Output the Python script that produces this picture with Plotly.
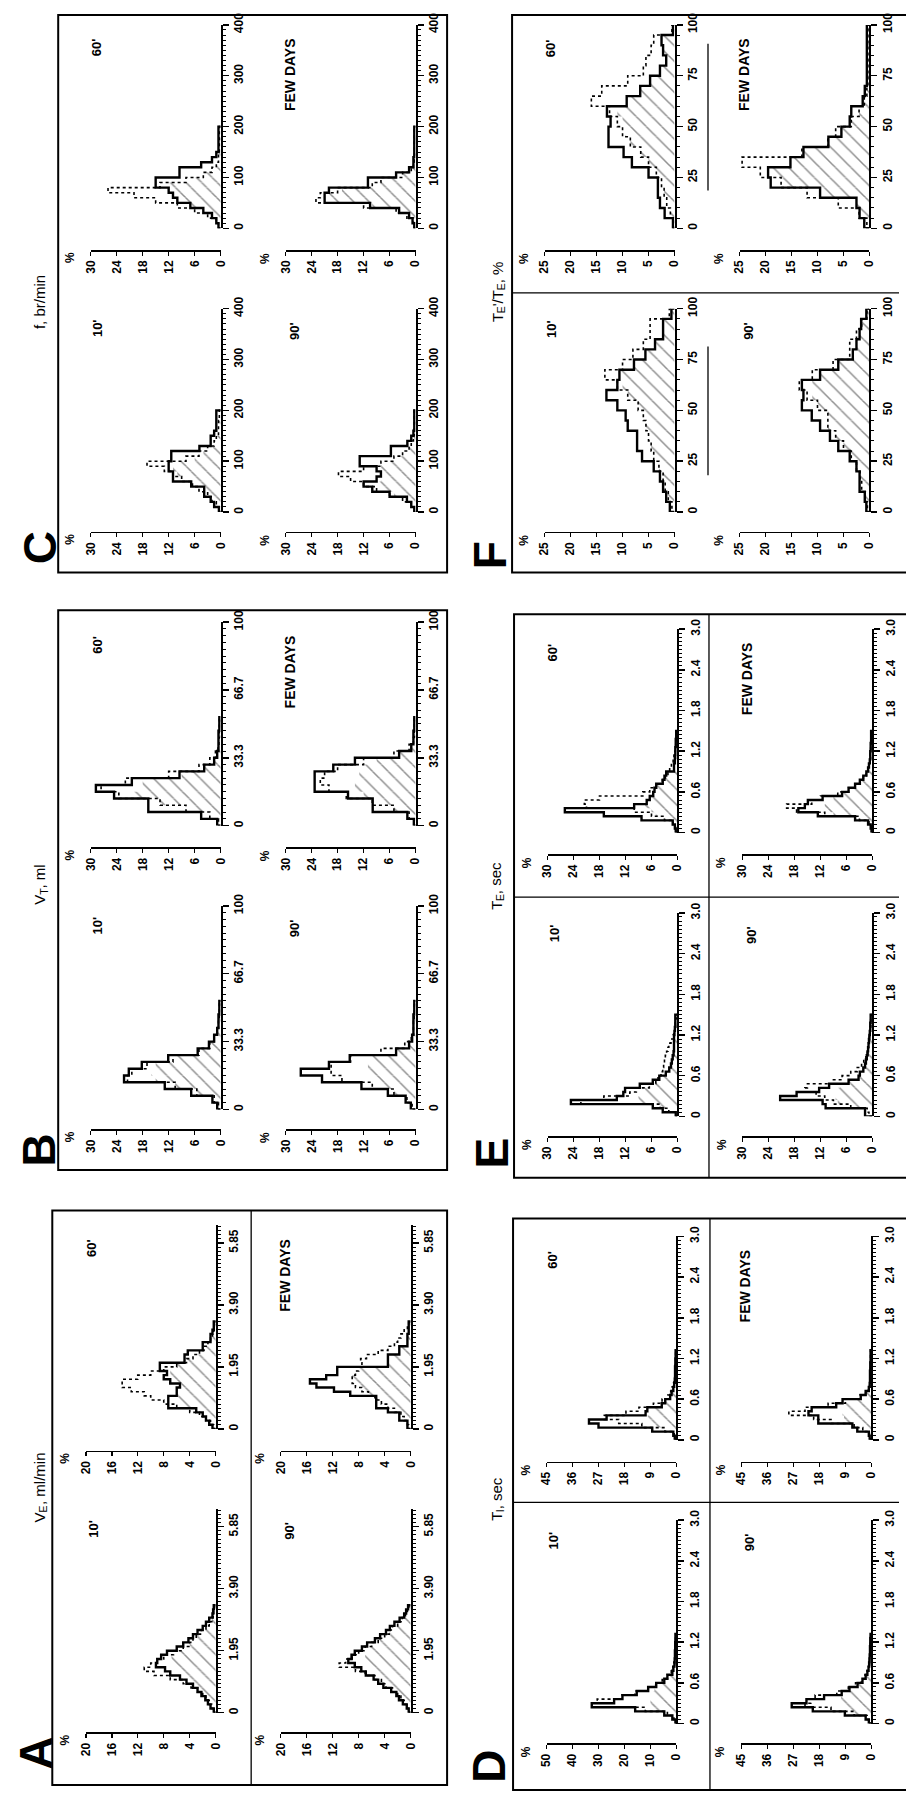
import plotly.graph_objects as go

W, H = 906, 1798

# ----------------------------------------------------------------- data
# bin widths of each variable
C_BIN = 10            # f, br/min
B_BIN = 100 / 30      # V_T, ml
A_BIN = 0.13          # V_E
F_BIN = 5             # T_E'/T_E, %
E_BIN = 0.06          # T_E, sec
D_BIN = 0.06          # T_I, sec

# panel C : f, br/min   (S = solid, D = dotted, H = hatched)
C60_S = [0.5, 1, 2, 4, 7, 10, 11, 12, 15, 15, 9.5, 9.5, 4.5, 2, 1, 0.5, 0.5, 0.5, 0.5, 0.5]
C60_D = [0.5, 1, 3, 6, 10, 15, 20, 26, 14, 8, 4, 2, 1, 0.5, 0.5, 0.3, 0.3, 0.3, 0.3, 0.3]
C60_H = [0.3, 1, 2, 4, 7, 10, 11, 12, 12, 8, 4, 2, 1, 0.5, 0.3, 0.3, 0.3, 0.3, 0.3, 0.3]
CFD_S = [0.3, 0.7, 1.5, 3.8, 10.5, 21, 21, 20, 11, 11, 4.5, 1.5, 0.5, 0.5, 0.3, 0.3, 0.3, 0.3, 0.3, 0.3]
CFD_D = [0.3, 0.5, 2, 4.5, 12, 23, 22, 18, 10, 8, 3, 1, 0.5, 0.3, 0.3, 0.3, 0.3, 0.3, 0.3, 0.3]
CFD_H = [0.3, 0.5, 1.5, 3.8, 10, 20, 20, 17, 10, 8, 3, 1, 0.3, 0.3, 0.3, 0.3, 0.3, 0.3, 0.3, 0.3]
C10_S = [0.4, 1.5, 2.3, 3.8, 3.8, 6.8, 11, 11, 12, 12, 11.4, 11.4, 4.9, 2.3, 2.3, 1.5, 1, 1, 1, 1]
C10_D = [0.3, 1, 2, 3, 5, 6.5, 9, 11, 13, 17, 8, 5, 3, 1.5, 1, 0.5, 0.5, 0.5, 0.3, 0.3]
C10_H = [0.3, 1, 2, 3, 3.8, 6, 8, 10, 11, 11, 6, 4, 2.5, 1.5, 1, 0.5, 0.5, 0.5, 0.3, 0.3]
C90_S = [0.3, 1, 2, 6, 10, 12, 9, 8, 9, 12.9, 12.9, 5.7, 5.7, 1.9, 1, 0.5, 0.3, 0.3, 0.3, 0.3]
C90_D = [0.3, 1, 3, 6, 9, 12, 15, 17.8, 12, 8, 5, 3, 1.5, 1, 0.5, 0.3, 0.3, 0.3, 0.3, 0.3]
C90_H = [0.3, 1, 2, 5, 8, 10, 8, 8, 8, 8, 5, 3, 1.5, 1, 0.5, 0.3, 0.3, 0.3, 0.3, 0.3]

# panel B : V_T, ml
B60_S = [0.8, 4.5, 16.7, 16.7, 24.6, 28.8, 20.5, 9.5, 3.8, 1.5, 0.8, 0.5, 0.5, 0.5, 0.3, 0.3]
B60_D = [0.5, 2.5, 8, 14, 23.5, 27.6, 22, 12, 5, 2.5, 1.2, 0.6, 0.4, 0.3, 0.3, 0.3]
B60_H = [0.5, 2.5, 8, 14, 20, 18, 18, 9, 3.8, 1.5, 0.8, 0.5, 0.4, 0.3, 0.3, 0.3]
BFD_S = [0.4, 1.9, 9.9, 9.9, 15.6, 23.3, 23.3, 23.3, 19, 14, 3.8, 1, 0.5, 0.5, 0.3, 0.3]
BFD_D = [0.3, 1.5, 5, 10, 16, 20, 22, 21, 18, 12, 5, 1.5, 0.5, 0.3, 0.3, 0.3]
BFD_H = [0.3, 1.5, 5, 9, 12, 14, 14, 13, 12, 9, 3.8, 1, 0.5, 0.3, 0.3, 0.3]
B10_S = [0.8, 1.9, 6.8, 12.9, 22.3, 21.2, 18.2, 12.1, 5.3, 2.7, 1.5, 0.8, 0.5, 0.5, 0.3, 0.3]
B10_D = [0.5, 1.5, 5.5, 10.5, 21.5, 20.5, 17, 11, 5, 2.5, 1.5, 0.8, 0.5, 0.3, 0.3, 0.3]
B10_H = [0.5, 1.5, 5.5, 10.5, 15, 16, 15, 11, 5, 2.5, 1.5, 0.8, 0.5, 0.3, 0.3, 0.3]
B90_S = [1.1, 2.3, 6.4, 12.5, 21.6, 26.5, 20, 15.2, 4.5, 1.5, 0.8, 0.5, 0.5, 0.5, 0.3, 0.3]
B90_D = [0.8, 2, 5, 10, 17, 19.5, 19.5, 15, 8, 2.5, 1, 0.5, 0.5, 0.3, 0.3, 0.3]
B90_H = [0.8, 2, 5, 9, 10, 11, 11, 10, 4.5, 1.5, 0.8, 0.5, 0.3, 0.3, 0.3, 0.3]

# panel A : V_E
A60_S = [0.5, 1, 1.5, 2, 3, 7.3, 7.3, 7.3, 6, 6, 5.5, 7, 8, 7.5, 8.6, 8.6, 4.8, 4.8, 4.3, 2, 2, 0.8, 0.8, 0.5, 0.3, 0.3]
A60_D = [0.3, 0.8, 1.5, 2.5, 4, 6, 8, 10, 11, 13, 14.4, 14.4, 12, 10, 8, 6, 4.5, 3.5, 2.5, 1.8, 1.2, 0.8, 0.5, 0.3, 0.3, 0.2]
A60_H = [0.3, 0.8, 1.5, 2, 3, 5, 6, 6.5, 6, 6, 5.5, 6.5, 7, 7, 7, 6, 4.5, 3.5, 2.5, 1.8, 1.2, 0.8, 0.5, 0.3, 0.3, 0.2]
AFD_S = [0.5, 0.5, 1.75, 1.75, 3.5, 5.3, 5.3, 5.3, 9.3, 11.8, 14.5, 15.5, 13, 11.3, 11.3, 3.5, 3.5, 3.5, 1.75, 1.75, 0.5, 0.5, 0.5, 0.3, 0.3, 0.3]
AFD_D = [0.3, 0.5, 1, 1.5, 2.5, 3.5, 4.5, 5.5, 6.5, 7.5, 8.5, 9, 9, 8.5, 8, 7.5, 7.7, 6.8, 5, 3.5, 2.5, 2, 1.5, 1, 0.5, 0.3]
AFD_H = [0.3, 0.5, 1, 1.5, 2.5, 3.5, 4.5, 5.3, 6.5, 7.5, 8.5, 9, 9, 8.5, 8, 3.5, 3.5, 3.5, 1.75, 1.75, 0.5, 0.5, 0.5, 0.3, 0.3, 0.3]
A10_S = [0.3, 0.8, 1.2, 1.6, 2.2, 2.8, 3.5, 4.5, 5.5, 7, 7.8, 9.2, 9, 8.4, 7.5, 6, 5, 4.2, 3.5, 2.8, 2, 1.5, 1, 0.5, 0.4, 0.3]
A10_D = [0.2, 0.6, 1, 1.5, 2, 2.8, 3.8, 5, 7, 9.5, 11, 10, 9, 8, 6.5, 5, 4, 3.5, 3, 2.2, 1.5, 1, 0.6, 0.4, 0.3, 0.2]
A10_H = [0.2, 0.6, 1, 1.5, 2, 2.8, 3.5, 4.2, 5.2, 6, 6.8, 7, 7, 6.8, 6, 5, 4, 3.5, 3, 2.2, 1.5, 1, 0.6, 0.4, 0.3, 0.2]
A90_S = [0.3, 0.6, 1.2, 1.8, 2.2, 3, 4.2, 5, 5.7, 6.9, 7.6, 8.6, 9.6, 9.1, 8.6, 7.5, 6.7, 5.5, 4.7, 3.8, 3.2, 2.5, 1.7, 1, 0.7, 0.4]
A90_D = [0.2, 0.5, 1, 1.5, 2, 2.8, 3.8, 4.5, 5.5, 7, 8.5, 11, 10, 9, 8, 7, 6, 5, 4, 3.3, 2.8, 2, 1.3, 0.8, 0.5, 0.3]
A90_H = [0.2, 0.5, 1, 1.5, 2, 2.8, 3.5, 4.2, 5, 5.8, 6.3, 6.8, 7, 7, 6.8, 6.3, 5.6, 4.8, 4, 3.3, 2.8, 2, 1.3, 0.8, 0.5, 0.3]

# panel F : T_E'/T_E, %
F60_S = [0.3, 1.9, 2.8, 3.2, 3.2, 5, 8.2, 9.8, 12.7, 12.7, 12.3, 13, 9.2, 6.6, 4.7, 2.8, 1.6, 2.2, 2.5, 0.3]
F60_D = [0.2, 0.8, 1.5, 2, 2.5, 3.5, 5, 6.5, 8.5, 10, 11, 12.5, 16, 14, 9, 6, 5.5, 4.5, 4, 0.5]
F60_H = [0.2, 0.8, 1.5, 2, 2.5, 3.5, 5, 6.5, 8.5, 9.5, 10, 11, 9.2, 6.6, 4.7, 2.8, 1.6, 2.2, 2.5, 0.3]
FFD_S = [1, 1.9, 2.5, 9.5, 19, 19.5, 15.2, 12.7, 7.9, 5.4, 3.8, 3.5, 1.3, 0.9, 0.5, 0.5, 0.5, 0.5, 0.5, 0.5]
FFD_D = [0.5, 2, 6, 12, 17, 21, 24.5, 13, 8, 6.5, 3.5, 2, 1, 0.5, 0.3, 0.3, 0.3, 0.3, 0.3, 0.3]
FFD_H = [0.5, 1.9, 2.5, 9.5, 17, 19, 15.2, 12.7, 7.9, 5.4, 3.5, 2, 1, 0.5, 0.3, 0.3, 0.3, 0.3, 0.3, 0.3]
F10_S = [0.9, 1.6, 2.2, 2.8, 4, 6.25, 7.2, 7.2, 9, 9.4, 11, 13.1, 11, 10.6, 7.8, 5.6, 3.75, 2.2, 2.2, 0.6]
F10_D = [0.5, 1.2, 1.8, 2.2, 3, 4, 4.5, 5, 5.5, 6, 7, 9, 11, 13.4, 10, 8, 6, 4.7, 4.7, 1]
F10_H = [0.5, 1.2, 1.8, 2.2, 3, 4, 4.5, 5, 5.5, 6, 7, 9, 10, 10.6, 7.8, 5.6, 3.75, 2.2, 2.2, 0.6]
F90_S = [0.6, 0.9, 1.9, 1.9, 2.5, 3.8, 6, 7.6, 9.5, 11.1, 13, 12.7, 13, 9.5, 6, 3.2, 2.5, 1.9, 1.6, 0.6]
F90_D = [0.4, 0.8, 1.5, 1.8, 2.5, 3.5, 5, 6.5, 8, 8, 10, 12, 13.5, 11, 7, 3.8, 3.8, 2.5, 1.5, 0.5]
F90_H = [0.4, 0.8, 1.5, 1.8, 2.5, 3.5, 5, 6.5, 8, 8, 10, 11, 11, 9.5, 6, 3.2, 2.5, 1.9, 1.5, 0.5]

# panel E : T_E, sec
E60_S = [0.4, 0.6, 1.1, 8.3, 17, 26, 10, 7.1, 6.4, 5.6, 5.3, 4.9, 3.4, 3, 2.6, 0.8, 0.8, 0.6, 0.6, 0.5, 0.5, 0.4, 0.4, 0.3, 0.3]
E60_D = [0.3, 0.5, 1, 3, 6, 10, 21, 21.5, 18, 8, 6.4, 5, 3.5, 2.8, 2.2, 1.8, 1.4, 1, 0.8, 0.6, 0.5, 0.4, 0.3, 0.3, 0.3]
E60_H = [0.3, 0.5, 1, 3, 5, 6, 7.5, 7.1, 6.4, 5.6, 5.3, 4.9, 3.4, 2.8, 2.2, 0.8, 0.8, 0.6, 0.6, 0.5, 0.5, 0.4, 0.3, 0.3, 0.3]
EFD_S = [0.2, 0.4, 1, 4, 12.6, 17.1, 15.6, 14.9, 11.5, 7, 5.5, 4, 2.9, 2.1, 1.4, 1, 0.8, 0.6, 0.5, 0.5, 0.4, 0.4, 0.3, 0.3, 0.3]
EFD_D = [0.2, 0.3, 0.8, 3, 11, 17.5, 19.8, 14, 12, 8, 5.5, 4, 2.9, 2.1, 1.4, 1, 0.8, 0.6, 0.5, 0.5, 0.4, 0.3, 0.3, 0.3, 0.3]
EFD_H = [0.2, 0.3, 0.8, 3, 9, 11, 11, 10, 9, 7, 5.5, 4, 2.9, 2.1, 1.4, 1, 0.8, 0.6, 0.5, 0.5, 0.4, 0.3, 0.3, 0.3, 0.3]
E10_S = [0.4, 3.4, 5.7, 24.6, 14, 12.5, 12.1, 8.7, 5.7, 4.2, 2.7, 1.9, 1.5, 1.3, 1.1, 0.9, 0.8, 0.8, 0.8, 0.8, 0.7, 0.6, 0.5, 0.5, 0.5]
E10_D = [0.3, 2, 4, 22.3, 17, 11, 9.5, 6.5, 5, 4.5, 3.8, 3.4, 3.2, 3, 2.8, 2.5, 2.2, 2, 1.5, 1, 0.8, 0.6, 0.5, 0.4, 0.3]
E10_H = [0.3, 2, 4, 9, 9, 8, 7.5, 6.5, 5, 4.2, 2.7, 1.9, 1.5, 1.3, 1.1, 0.9, 0.8, 0.8, 0.8, 0.8, 0.7, 0.6, 0.5, 0.4, 0.3]
E90_S = [1.7, 1.7, 10.8, 11.5, 21.3, 17.5, 12.3, 10, 5.5, 3.2, 2.9, 2.1, 1.7, 1.5, 1.3, 1.1, 1, 0.9, 0.8, 0.7, 0.6, 0.5, 0.5, 0.4, 0.4]
E90_D = [0.8, 1.2, 5, 9, 11, 13, 15.6, 15, 9, 7, 5, 3.5, 2.5, 2, 1.5, 1.2, 1, 0.9, 0.8, 0.7, 0.6, 0.5, 0.4, 0.4, 0.3]
E90_H = [0.8, 1.2, 5, 8, 8.5, 8.5, 8, 7.5, 5.5, 3.2, 2.9, 2.1, 1.7, 1.5, 1.3, 1.1, 1, 0.9, 0.8, 0.7, 0.6, 0.5, 0.4, 0.4, 0.3]

# panel D : T_I, sec
D60_S = [0.6, 1.1, 8.4, 27, 30.3, 24.2, 10.7, 10.1, 5.1, 3.9, 2.2, 1.7, 1.1, 0.8, 0.6, 0.5, 0.5, 0.5, 0.4, 0.4, 0.3, 0.3]
D60_D = [0.4, 0.8, 4, 12, 20, 25, 17.5, 13, 8, 5, 3, 2, 1.5, 1, 0.8, 0.6, 0.5, 0.4, 0.4, 0.3, 0.3, 0.3]
D60_H = [0.4, 0.8, 4, 9, 10, 10, 9, 8, 5.1, 3.9, 2.2, 1.7, 1.1, 0.8, 0.6, 0.5, 0.5, 0.4, 0.4, 0.3, 0.3, 0.3]
DFD_S = [0.6, 0.9, 4.9, 6.6, 18.4, 18.4, 21.8, 20.7, 12.2, 10, 3.7, 2, 0.9, 0.6, 0.5, 0.5, 0.5, 0.4, 0.4, 0.3, 0.3, 0.3]
DFD_D = [0.4, 0.7, 3, 6, 14, 20, 28.6, 23, 15, 9, 4, 2, 1, 0.6, 0.5, 0.4, 0.4, 0.3, 0.3, 0.3, 0.3, 0.3]
DFD_H = [0.4, 0.7, 3, 6, 9, 9.5, 10, 10, 9, 8, 3.7, 2, 0.9, 0.6, 0.5, 0.4, 0.4, 0.3, 0.3, 0.3, 0.3, 0.3]
D10_S = [0.4, 1.6, 4.7, 15.9, 32.6, 24, 20.8, 15.3, 10.9, 7.8, 4.7, 3.5, 1.6, 1.2, 0.8, 0.7, 0.6, 0.6, 0.5, 0.5, 0.4, 0.4]
D10_D = [0.3, 1, 3.5, 12, 27, 30.5, 21, 16, 11, 8, 5.5, 3.5, 2, 1.4, 1, 0.8, 0.6, 0.5, 0.5, 0.4, 0.4, 0.3]
D10_H = [0.3, 1, 3.5, 9, 10, 10, 10, 9.5, 8.5, 7, 4.7, 3.5, 1.6, 1.2, 0.8, 0.7, 0.6, 0.5, 0.5, 0.4, 0.4, 0.3]
D90_S = [0.9, 2, 9.2, 20.3, 27.6, 22.5, 16.4, 10.3, 7.6, 4.8, 3.1, 2, 1.4, 1, 0.8, 0.7, 0.6, 0.5, 0.5, 0.4, 0.4, 0.3]
D90_D = [0.6, 1.5, 6, 14, 23, 21, 19.5, 12, 8, 5.5, 3.5, 2.2, 1.5, 1, 0.8, 0.6, 0.5, 0.5, 0.4, 0.4, 0.3, 0.3]
D90_H = [0.6, 1.5, 6, 10, 11, 11, 10.5, 9, 7, 4.8, 3.1, 2, 1.4, 1, 0.8, 0.6, 0.5, 0.5, 0.4, 0.4, 0.3, 0.3]

# axis tick values / labels
C_VTICKS, C_VLABELS = [0, 100, 200, 300, 400], ["0", "100", "200", "300", "400"]
B_VTICKS, B_VLABELS = [0, 33.3, 66.7, 100], ["0", "33.3", "66.7", "100"]
A_VTICKS, A_VLABELS = [0, 1.95, 3.90, 5.85], ["0", "1.95", "3.90", "5.85"]
T_VTICKS, T_VLABELS = [0, 0.6, 1.2, 1.8, 2.4, 3.0], ["0", "0.6", "1.2", "1.8", "2.4", "3.0"]
F_VTICKS, F_VLABELS = [0, 25, 50, 75, 100], ["0", "25", "50", "75", "100"]

TIMES = ["60'", "FEW DAYS", "10'", "90'"]

# panel titles as (text, is_subscript) pieces
C_TITLE = [("f, br/min", False)]
B_TITLE = [("V", False), ("T", True), (", ml", False)]
A_TITLE = [("V", False), ("E", True), (", ml/min", False)]
F_TITLE = [("T", False), ("E", True), ("'/T", False), ("E", True), (", %", False)]
E_TITLE = [("T", False), ("E", True), (", sec", False)]
D_TITLE = [("T", False), ("I", True), (", sec", False)]

# ----------------------------------------------------------------- panels
PANELS = [
    dict(letter="C", title=C_TITLE, ox=52, oy=1, box=(52, 3, 447, 565),
         title_xy=(33, 293), letter_xy=(33, 540),
         vmax=400, vt=C_VTICKS, vl=C_VLABELS, vminor=10, binw=C_BIN,
         pct=[(30, 6)] * 4,
         data=[(C60_S, C60_D, C60_H), (CFD_S, CFD_D, CFD_H), (C10_S, C10_D, C10_H), (C90_S, C90_D, C90_H)]),
    dict(letter="B", title=B_TITLE, ox=52, oy=603, box=(52, 603, 447, 1167),
         title_xy=(33, 880), letter_xy=(33, 1147),
         vmax=100, vt=B_VTICKS, vl=B_VLABELS, vminor=100 / 30, binw=B_BIN,
         pct=[(30, 6)] * 4,
         data=[(B60_S, B60_D, B60_H), (BFD_S, BFD_D, BFD_H), (B10_S, B10_D, B10_H), (B90_S, B90_D, B90_H)]),
    dict(letter="A", title=A_TITLE, ox=47, oy=1211, box=(46, 1208, 447, 1787),
         title_xy=(33, 1488), letter_xy=(30, 1755),
         vmax=6.4, vt=A_VTICKS, vl=A_VLABELS, vminor=0.13, binw=A_BIN,
         pct=[(20, 4)] * 4,
         data=[(A60_S, A60_D, A60_H), (AFD_S, AFD_D, AFD_H), (A10_S, A10_D, A10_H), (A90_S, A90_D, A90_H)]),
    dict(letter="F", title=F_TITLE, ox=513, oy=1, box=(513, 3, 915, 565),
         title_xy=(498, 283), letter_xy=(490, 547),
         vmax=100, vt=F_VTICKS, vl=F_VLABELS, vminor=5, binw=F_BIN,
         pct=[(25, 5)] * 4,
         data=[(F60_S, F60_D, F60_H), (FFD_S, FFD_D, FFD_H), (F10_S, F10_D, F10_H), (F90_S, F90_D, F90_H)]),
    dict(letter="E", title=E_TITLE, ox=516, oy=610, box=(515, 607, 915, 1175),
         title_xy=(497, 882), letter_xy=(493, 1150),
         vmax=3.0, vt=T_VTICKS, vl=T_VLABELS, vminor=0.06, binw=E_BIN,
         pct=[(30, 6)] * 4,
         data=[(E60_S, E60_D, E60_H), (EFD_S, EFD_D, EFD_H), (E10_S, E10_D, E10_H), (E90_S, E90_D, E90_H)]),
    dict(letter="D", title=D_TITLE, ox=515, oy=1222, box=(514, 1216, 915, 1792),
         title_xy=(497, 1500), letter_xy=(490, 1768),
         vmax=3.0, vt=T_VTICKS, vl=T_VLABELS, vminor=0.06, binw=D_BIN,
         pct=[(45, 9), (45, 9), (50, 10), (45, 9)],
         data=[(D60_S, D60_D, D60_H), (DFD_S, DFD_D, DFD_H), (D10_S, D10_D, D10_H), (D90_S, D90_D, D90_H)]),
]

# subplot geometry relative to panel origin: x_left, x_right, y_top, y_zero, y_pct_axis
SUB_GEOM = [(33, 165, 12, 217, 239), (231, 363, 12, 217, 239),
            (33, 165, 298, 503, 523), (231, 363, 298, 503, 523)]
LABEL_OFF = [(39, 35), (235, 62), (40, 318), (240, 320)]

FONT = "Liberation Sans"
TICKFONT = dict(family=FONT, size=12, color="black", weight="bold")

# Arial / Liberation Sans advance widths (1/1000 em) for title layout
CHAR_W = {"f": 278, ",": 278, " ": 278, "b": 556, "r": 333, "/": 278, "m": 833,
          "i": 222, "n": 556, "V": 667, "T": 611, "E": 667, "I": 278, "l": 222,
          "'": 191, "%": 889, "s": 500, "e": 556, "c": 500}


def px(x):
    return x / W


def py(y):
    return 1 - y / H


fig = go.Figure()
layout = {}
annotations = []
shapes = []


def ann(text, x, y, size, bold=False, yanchor="middle"):
    annotations.append(dict(text=text, x=px(x), y=py(y), xref="paper", yref="paper",
                            showarrow=False, textangle=-90, xanchor="center", yanchor=yanchor,
                            borderpad=0,
                            font=dict(family=FONT, size=size, color="black",
                                      weight="bold" if bold else "normal")))


def title(pieces, xc, yc, size):
    sub = size * 0.7
    widths = [sum(CHAR_W.get(ch, 556) for ch in t) / 1000 * (sub if s else size)
              for t, s in pieces]
    y = yc + sum(widths) / 2
    for (t, s), w in zip(pieces, widths):
        ann(t, xc + (4.5 if s else 0), y, sub if s else size, yanchor="bottom")
        y -= w


n = 0
for p in PANELS:
    ox, oy = p["ox"], p["oy"]
    x0, y0, x1, y1 = p["box"]
    shapes.append(dict(type="rect", xref="paper", yref="paper", x0=px(x0), x1=px(x1),
                       y0=py(y1), y1=py(y0), line=dict(color="black", width=2)))
    title(p["title"], *p["title_xy"], 15)
    ann(p["letter"], *p["letter_xy"], 46, bold=True)
    for k in range(4):
        n += 1
        xl, xr, yt, yz, ya = SUB_GEOM[k]
        pmax, pdt = p["pct"][k]
        solid, dotted, hatched = p["data"][k]
        bw = p["binw"]
        xname = "xaxis" if n == 1 else f"xaxis{n}"
        yname = "yaxis" if n == 1 else f"yaxis{n}"
        xref = "x" if n == 1 else f"x{n}"
        yref = "y" if n == 1 else f"y{n}"

        layout[xname] = dict(domain=[px(ox + xl), px(ox + xr)], range=[pmax, 0],
                             anchor="free", position=py(oy + ya),
                             showline=True, linecolor="black", linewidth=1.5,
                             ticks="outside", ticklen=4, tickwidth=1.5, tickcolor="black",
                             tickmode="array", tickvals=list(range(0, pmax + 1, pdt)),
                             tickangle=-90, tickfont=TICKFONT,
                             showgrid=False, zeroline=False, fixedrange=True)
        layout[yname] = dict(domain=[py(oy + yz), py(oy + yt)], range=[0, p["vmax"]],
                             anchor=xref, side="right",
                             showline=True, linecolor="black", linewidth=2,
                             ticks="outside", ticklen=6, tickwidth=1.5, tickcolor="black",
                             tickmode="array", tickvals=p["vt"], ticktext=p["vl"],
                             tickangle=-90, tickfont=TICKFONT,
                             minor=dict(ticks="outside", ticklen=3, tickwidth=1,
                                        tickcolor="black", tick0=0, dtick=p["vminor"]),
                             showgrid=False, zeroline=False, fixedrange=True)

        centers = [bw * (i + 0.5) for i in range(len(hatched))]
        fig.add_trace(go.Bar(x=hatched, y=centers, orientation="h", width=bw, base=0,
                             marker=dict(color="white",
                                         pattern=dict(shape="\\", fgcolor="#222222",
                                                      bgcolor="white", size=11, solidity=0.14),
                                         line=dict(width=0)),
                             xaxis=xref, yaxis=yref, hoverinfo="skip"))
        for series, dash, wid in ((dotted, "dot", 1.6), (solid, "solid", 2.4)):
            xs = [0] + list(series) + [0]
            ys = [0] + [bw * i for i in range(len(series))] + [bw * len(series)]
            fig.add_trace(go.Scatter(x=xs, y=ys, mode="lines",
                                     line=dict(shape="vh", color="black", width=wid, dash=dash),
                                     xaxis=xref, yaxis=yref, hoverinfo="skip"))

        lx, ly = LABEL_OFF[k]
        ann(TIMES[k], ox + lx, oy + ly, 13 if k != 1 else 14, bold=True)
        ann("%", ox + xl - 21, oy + ya + 8, 12, bold=True)

# divider lines inside panels
DIVIDERS = [
    (248, 1208, 248, 1787),     # A vertical
    (513, 283, 906, 283),       # F horizontal
    (712, 32, 712, 180),        # F vertical pieces
    (712, 337, 712, 467),
    (515, 892, 906, 892),       # E horizontal
    (713, 607, 713, 1175),      # E vertical
    (514, 1502, 906, 1502),     # D horizontal
    (714, 1216, 714, 1792),     # D vertical
]
for (a, b, c, d) in DIVIDERS:
    shapes.append(dict(type="line", xref="paper", yref="paper", x0=px(a), x1=px(c),
                       y0=py(b), y1=py(d), line=dict(color="black", width=1.3)))

fig.update_layout(**layout)
fig.update_layout(width=W, height=H, margin=dict(l=0, r=0, t=0, b=0),
                  paper_bgcolor="white", plot_bgcolor="rgba(0,0,0,0)",
                  showlegend=False, barmode="overlay",
                  annotations=annotations, shapes=shapes)

fig.write_html("out.html", config={"displayModeBar": False, "staticPlot": True},
               post_script="document.body.style.margin='0';document.body.style.overflow='hidden';")
